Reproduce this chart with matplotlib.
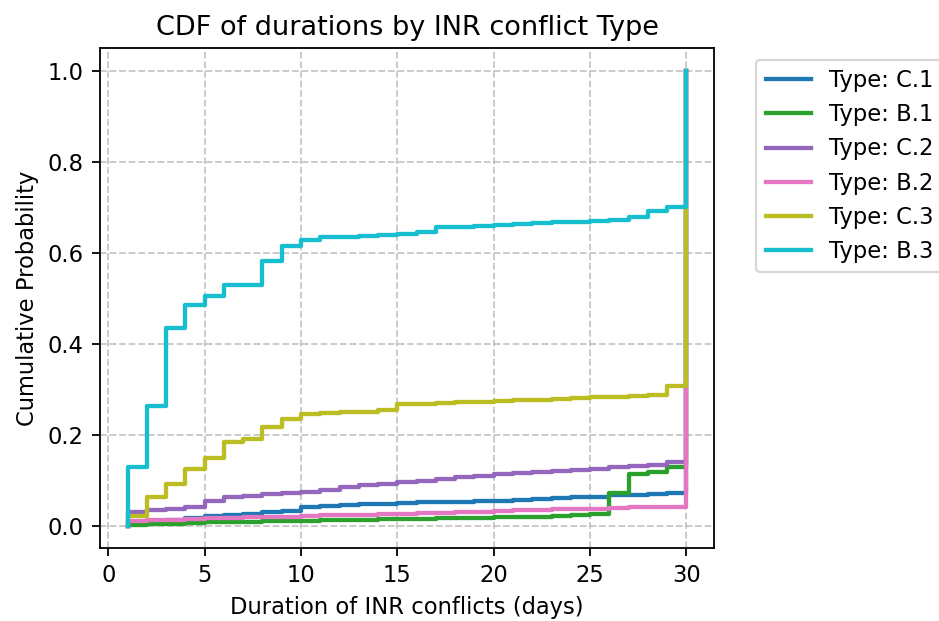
import matplotlib
matplotlib.use('Agg')
import matplotlib.pyplot as plt

# data (CDF value at each integer day, 1..30)
days = list(range(1, 31))
types = ['C.1', 'B.1', 'C.2', 'B.2', 'C.3', 'B.3']
colors = ['tab:blue', 'tab:green', 'tab:purple', 'tab:pink', 'tab:olive', 'tab:cyan']

cdf_c1 = [0.004, 0.008, 0.012, 0.016, 0.022, 0.024, 0.026, 0.029, 0.033, 0.042,
          0.043, 0.045, 0.047, 0.048, 0.050, 0.051, 0.052, 0.053, 0.054, 0.055,
          0.057, 0.059, 0.061, 0.063, 0.064, 0.067, 0.068, 0.069, 0.071, 1.0]
cdf_b1 = [0.002, 0.003, 0.004, 0.005, 0.007, 0.008, 0.009, 0.010, 0.010, 0.011,
          0.012, 0.012, 0.013, 0.014, 0.015, 0.015, 0.016, 0.017, 0.017, 0.018,
          0.019, 0.020, 0.022, 0.024, 0.026, 0.072, 0.114, 0.119, 0.128, 1.0]
cdf_c2 = [0.029, 0.035, 0.037, 0.042, 0.055, 0.062, 0.066, 0.070, 0.072, 0.075,
          0.079, 0.084, 0.089, 0.092, 0.095, 0.099, 0.102, 0.106, 0.110, 0.114,
          0.116, 0.118, 0.121, 0.123, 0.125, 0.128, 0.131, 0.133, 0.139, 1.0]
cdf_b2 = [0.011, 0.012, 0.013, 0.015, 0.016, 0.017, 0.018, 0.019, 0.020, 0.022,
          0.023, 0.024, 0.024, 0.025, 0.026, 0.027, 0.028, 0.030, 0.031, 0.033,
          0.034, 0.035, 0.036, 0.036, 0.037, 0.039, 0.040, 0.040, 0.040, 1.0]
cdf_c3 = [0.022, 0.064, 0.092, 0.125, 0.148, 0.183, 0.190, 0.218, 0.234, 0.245,
          0.247, 0.249, 0.251, 0.255, 0.267, 0.268, 0.270, 0.271, 0.273, 0.274,
          0.276, 0.277, 0.279, 0.280, 0.282, 0.284, 0.285, 0.287, 0.308, 1.0]
cdf_b3 = [0.128, 0.264, 0.434, 0.485, 0.505, 0.530, 0.530, 0.582, 0.615, 0.629,
          0.634, 0.636, 0.638, 0.640, 0.641, 0.645, 0.656, 0.658, 0.660, 0.662,
          0.664, 0.666, 0.667, 0.669, 0.670, 0.672, 0.678, 0.692, 0.700, 1.0]

series = [cdf_c1, cdf_b1, cdf_c2, cdf_b2, cdf_c3, cdf_b3]

DPI = 163
fig = plt.figure(figsize=(940 / DPI, 621 / DPI), dpi=DPI)
ax = fig.add_axes([0.106, 0.117, 0.654, 0.805])

for name, col, vals in zip(types, colors, series):
    ax.step([days[0]] + days, [0.0] + vals, where='post', color=col, lw=1.9,
            label='Type: ' + name)

ax.set_title('CDF of durations by INR conflict Type')
ax.set_xlabel('Duration of INR conflicts (days)')
ax.set_ylabel('Cumulative Probability')
ax.grid(True, linestyle='--', alpha=0.7)
ax.legend(bbox_to_anchor=(1.05, 1), loc='upper left')

fig.savefig('out.png', dpi=DPI)
